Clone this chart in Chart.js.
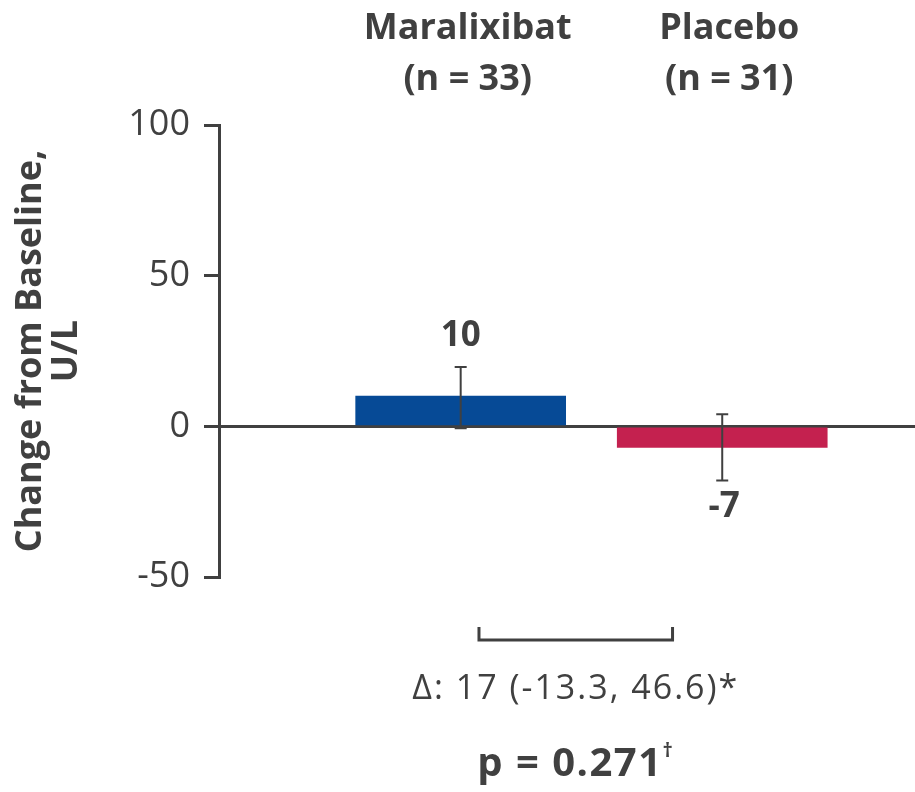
<!DOCTYPE html>
<html>
<head>
<meta charset="utf-8">
<script src="https://cdn.jsdelivr.net/npm/chart.js@4"></script>
<style>
  body { margin: 0; background: #fff; }
  #wrap { width: 915px; height: 792px; }
</style>
</head>
<body>
<div id="wrap"><canvas id="chart" width="915" height="792"></canvas></div>
<script>
// ── Data ─────────────────────────────────────────────────────────────
const groups    = [['Maralixibat', '(n = 33)'], ['Placebo', '(n = 31)']];
const positions = [1, 2];
const values    = [10, -7];
const errLow    = [-0.6, -18];
const errHigh   = [19.7, 4];
const valueText = ['10', '-7'];
const barColors = ['#064a96', '#c4214f'];
const yTicks    = [-50, 0, 50, 100];
const deltaText = 'Δ: 17 (-13.3, 46.6)*';
const pText     = 'p = 0.271';
const bracketX  = [1.07, 1.81];

const INK = '#404040';
const FONT = "'Open Sans', sans-serif";

// ── Error bars, value labels, comparison bracket ────────────────────
const extras = {
  id: 'extras',
  afterDatasetsDraw(chart) {
    const { ctx, scales: { x, y }, chartArea } = chart;
    const meta = chart.getDatasetMeta(0);
    ctx.save();
    ctx.strokeStyle = INK;
    ctx.fillStyle = INK;

    meta.data.forEach((bar, i) => {
      const cx = bar.x;
      const yHi = y.getPixelForValue(errHigh[i]);
      const yLo = y.getPixelForValue(errLow[i]);
      ctx.lineWidth = 2;
      ctx.beginPath();
      ctx.moveTo(cx, yHi); ctx.lineTo(cx, yLo);
      ctx.moveTo(cx - 6, yHi); ctx.lineTo(cx + 6, yHi);
      ctx.moveTo(cx - 6, yLo); ctx.lineTo(cx + 6, yLo);
      ctx.stroke();

      ctx.font = `bold 35px ${FONT}`;
      ctx.textAlign = 'center';
      ctx.textBaseline = 'middle';
      if (values[i] >= 0) ctx.fillText(valueText[i], cx, yHi - 31);
      else ctx.fillText(valueText[i], cx + 2, yLo + 26);
    });

    // bracket under the chart
    const bx1 = x.getPixelForValue(bracketX[0]);
    const bx2 = x.getPixelForValue(bracketX[1]);
    const top = chartArea.bottom + 50;
    const bot = chartArea.bottom + 63;
    ctx.lineWidth = 3;
    ctx.beginPath();
    ctx.moveTo(bx1, top); ctx.lineTo(bx1, bot); ctx.lineTo(bx2, bot); ctx.lineTo(bx2, top);
    ctx.stroke();

    const mid = (bx1 + bx2) / 2;
    ctx.textAlign = 'center';
    ctx.textBaseline = 'middle';
    ctx.letterSpacing = '2px';
    ctx.font = `34px ${FONT}`;
    ctx.fillText(deltaText, mid, chartArea.bottom + 112);

    ctx.letterSpacing = '1.5px';
    ctx.font = `bold 40px ${FONT}`;
    const pw = ctx.measureText(pText).width;
    ctx.font = `bold 20px ${FONT}`;
    const dw = ctx.measureText('†').width;
    const startX = mid - (pw + dw) / 2;
    ctx.textAlign = 'left';
    ctx.font = `bold 40px ${FONT}`;
    ctx.fillText(pText, startX, chartArea.bottom + 188);
    ctx.font = `bold 20px ${FONT}`;
    ctx.fillText('†', startX + pw, chartArea.bottom + 174);
    ctx.restore();
  }
};

// ── Chart ────────────────────────────────────────────────────────────
new Chart(document.getElementById('chart'), {
  type: 'bar',
  data: {
    datasets: [{
      data: positions.map((p, i) => ({ x: p, y: values[i] })),
      backgroundColor: barColors,
      barThickness: 210,
      borderWidth: 0
    }]
  },
  options: {
    responsive: false,
    animation: false,
    layout: { padding: { top: 0, right: 0, bottom: 215, left: 0 } },
    plugins: { legend: { display: false }, tooltip: { enabled: false } },
    scales: {
      x: {
        type: 'linear',
        position: 'top',
        offset: false,
        min: 0.076,
        max: 2.737,
        afterBuildTicks: s => { s.ticks = positions.map(v => ({ value: v })); },
        afterFit: s => { s.height = 125; },
        grid: { display: false },
        border: { display: false },
        ticks: {
          color: INK,
          font: { family: FONT, size: 36, weight: 'bold', lineHeight: 1.42 },
          padding: 12,
          labelOffset: 7,
          maxRotation: 0,
          callback: v => groups[positions.indexOf(v)]
        }
      },
      y: {
        min: -50,
        max: 100,
        z: 1,
        afterBuildTicks: s => { s.ticks = yTicks.map(v => ({ value: v })); },
        afterFit: s => { s.width = 219; },
        border: { color: INK, width: 3 },
        grid: {
          color: c => (c.tick && c.tick.value === 0 ? INK : 'transparent'),
          tickColor: INK,
          lineWidth: 3,
          tickLength: 15
        },
        ticks: {
          color: INK,
          font: { family: FONT, size: 36 },
          padding: 14
        },
        title: {
          display: true,
          text: ['Change from Baseline,', 'U/L'],
          color: INK,
          font: { family: FONT, size: 36, weight: 'bold', lineHeight: 1.0 },
          padding: { top: 13, bottom: 0 }
        }
      }
    }
  },
  plugins: [extras]
});
</script>
</body>
</html>
